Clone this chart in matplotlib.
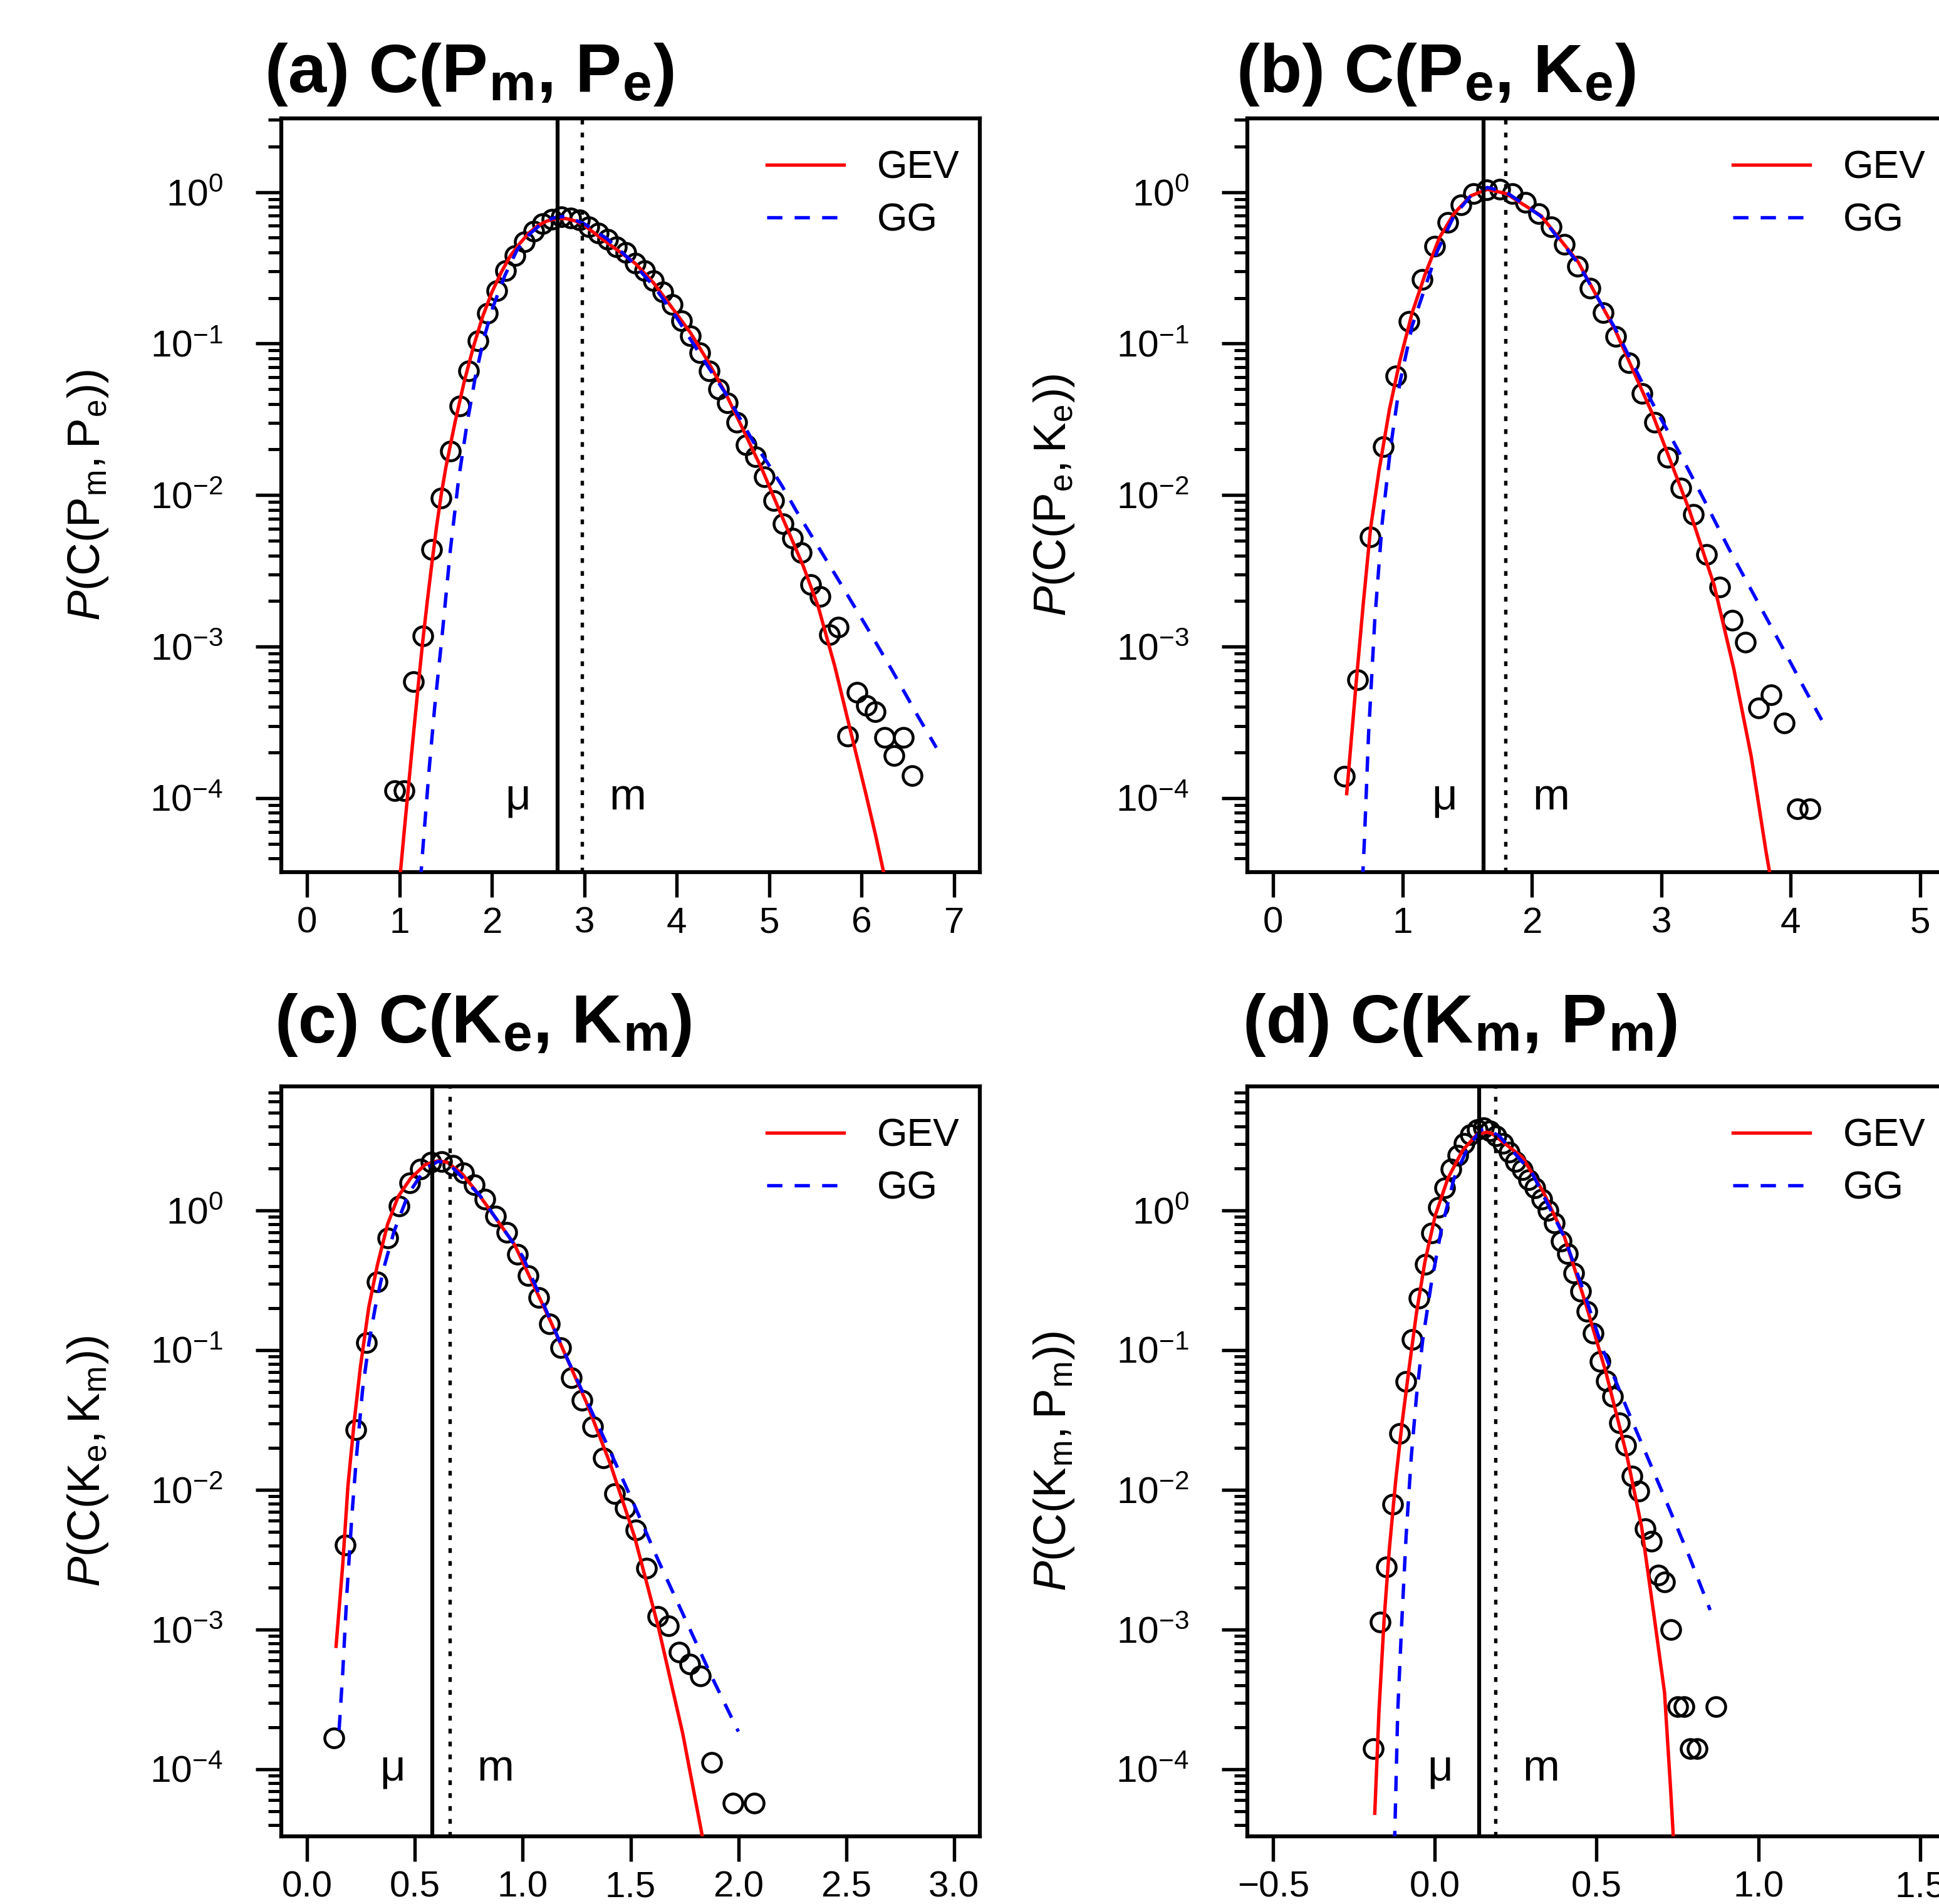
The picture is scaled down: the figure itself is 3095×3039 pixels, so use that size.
import numpy as np
import matplotlib
matplotlib.use("Agg")
import matplotlib.pyplot as plt
from matplotlib.ticker import LogLocator, FixedLocator, FuncFormatter, NullFormatter

plt.rcParams.update({
    'font.family': ['Liberation Sans', 'DejaVu Sans'],
    'mathtext.fontset': 'custom',
    'mathtext.rm': 'Liberation Sans',
    'mathtext.it': 'Liberation Sans:italic',
    'mathtext.bf': 'Liberation Sans:bold',
    'mathtext.default': 'regular',
})

# ---------------- data (log10 of probability density) -------------
# Panel (a) C(Pm, Pe)
a_x = [0.95, 1.05, 1.15, 1.25, 1.35, 1.45, 1.55, 1.65, 1.75, 1.85, 1.95, 2.05, 2.15, 2.25,
       2.35, 2.45, 2.55, 2.65, 2.75, 2.85, 2.95, 3.05, 3.15, 3.25, 3.35, 3.45, 3.55, 3.65,
       3.75, 3.85, 3.95, 4.05, 4.15, 4.25, 4.35, 4.45, 4.55, 4.65, 4.75, 4.85, 4.95, 5.05,
       5.15, 5.25, 5.35, 5.45, 5.55, 5.65, 5.75, 5.85, 5.95, 6.05, 6.15, 6.25, 6.35, 6.45, 6.55]
a_logp = [-3.95, -3.95, -3.23, -2.93, -2.36, -2.02, -1.71, -1.41, -1.18, -0.98, -0.80, -0.65,
          -0.52, -0.42, -0.33, -0.26, -0.21, -0.18, -0.165, -0.17, -0.185, -0.23, -0.27, -0.31,
          -0.36, -0.40, -0.47, -0.52, -0.585, -0.66, -0.74, -0.85, -0.95, -1.06, -1.18, -1.30,
          -1.39, -1.52, -1.67, -1.745, -1.88, -2.035, -2.19, -2.285, -2.38, -2.59, -2.67, -2.92,
          -2.87, -3.59, -3.30, -3.39, -3.43, -3.60, -3.72, -3.60, -3.85]
a_gev_x = [1.00, 1.05, 1.10, 1.15, 1.20, 1.25, 1.30, 1.35, 1.40, 1.45, 1.50, 1.55, 1.60, 1.70,
           1.80, 1.90, 2.00, 2.10, 2.20, 2.30, 2.40, 2.50, 2.60, 2.70, 2.80, 2.90, 3.00, 3.16,
           3.35, 3.55, 3.75, 3.94, 4.15, 4.33, 4.53, 4.72, 4.93, 5.11, 5.37, 5.53, 5.71, 5.89,
           6.05, 6.15, 6.25]
a_gev_logp = [-4.55, -4.22, -3.90, -3.58, -3.27, -2.97, -2.70, -2.45, -2.21, -2.00, -1.82,
              -1.67, -1.52, -1.25, -1.02, -0.82, -0.66, -0.53, -0.42, -0.34, -0.27, -0.22,
              -0.19, -0.175, -0.175, -0.19, -0.22, -0.295, -0.38, -0.47, -0.60, -0.756, -0.93,
              -1.11, -1.33, -1.57, -1.84, -2.10, -2.47, -2.734, -3.129, -3.58, -3.98, -4.24, -4.52]
a_gg_x = [1.225, 1.26, 1.32, 1.38, 1.46, 1.55, 1.64, 1.73, 1.82, 1.91, 2.01, 2.14, 2.27, 2.41,
          2.57, 2.70, 2.80, 3.00, 3.25, 3.50, 3.75, 4.00, 4.23, 4.54, 4.83, 4.98, 5.14, 5.29,
          5.45, 5.74, 6.05, 6.33, 6.62, 6.81]
a_gg_logp = [-4.55, -4.27, -3.81, -3.40, -2.93, -2.36, -1.89, -1.53, -1.22, -0.97, -0.76,
             -0.55, -0.384, -0.275, -0.192, -0.165, -0.16, -0.21, -0.31, -0.45, -0.62, -0.83,
             -1.05, -1.34, -1.65, -1.785, -1.94, -2.10, -2.26, -2.55, -2.865, -3.156, -3.47, -3.667]
a_mu, a_m = 2.707, 2.975

# Panel (b) C(Pe, Ke)
b_x = [0.55, 0.65, 0.75, 0.85, 0.95, 1.05, 1.15, 1.25, 1.35, 1.45, 1.55, 1.65, 1.75, 1.85,
       1.95, 2.05, 2.15, 2.25, 2.35, 2.45, 2.55, 2.65, 2.75, 2.85, 2.95, 3.05, 3.15, 3.25,
       3.35, 3.45, 3.55, 3.65, 3.75, 3.85, 3.95, 4.05, 4.15]
b_logp = [-3.855, -3.217, -2.274, -1.679, -1.215, -0.852, -0.577, -0.359, -0.199, -0.083,
          -0.010, 0.015, 0.019, -0.010, -0.068, -0.141, -0.229, -0.344, -0.490, -0.635, -0.794,
          -0.954, -1.128, -1.331, -1.519, -1.752, -1.955, -2.129, -2.390, -2.607, -2.825,
          -2.970, -3.405, -3.318, -3.506, -4.072, -4.072]
b_gev_x = [0.568, 0.64, 0.697, 0.753, 0.818, 0.899, 0.979, 1.075, 1.172, 1.285, 1.398, 1.527,
           1.655, 1.80, 2.07, 2.357, 2.643, 2.93, 3.217, 3.408, 3.56, 3.695, 3.81, 3.86]
b_gev_logp = [-3.97, -3.25, -2.709, -2.216, -1.838, -1.432, -1.113, -0.794, -0.548, -0.301,
              -0.141, -0.025, 0.018, -0.01, -0.156, -0.461, -0.91, -1.461, -2.10, -2.593,
              -3.144, -3.724, -4.355, -4.60]
b_gg_x = [0.69, 0.705, 0.737, 0.785, 0.842, 0.906, 0.979, 1.075, 1.172, 1.269, 1.398, 1.527,
          1.655, 1.80, 2.07, 2.357, 2.643, 2.93, 3.14, 3.33, 3.52, 3.72, 3.914, 4.115, 4.24]
b_gg_logp = [-4.55, -4.275, -3.578, -2.825, -2.186, -1.693, -1.258, -0.881, -0.635, -0.388,
             -0.156, -0.025, 0.03, 0.0, -0.16, -0.47, -0.90, -1.39, -1.72, -2.03, -2.35,
             -2.665, -2.97, -3.29, -3.484]
b_mu, b_m = 1.626, 1.793

# Panel (c) C(Ke, Km)
c_x = [0.125, 0.175, 0.225, 0.275, 0.325, 0.375, 0.425, 0.475, 0.525, 0.575, 0.625, 0.675,
       0.725, 0.775, 0.825, 0.875, 0.925, 0.975, 1.025, 1.075, 1.125, 1.175, 1.225, 1.275,
       1.325, 1.375, 1.425, 1.475, 1.525, 1.575, 1.625, 1.675, 1.725, 1.775, 1.825, 1.875,
       1.975, 2.075]
c_logp = [-3.777, -2.396, -1.569, -0.948, -0.510, -0.198, 0.033, 0.197, 0.296, 0.345, 0.350,
          0.322, 0.270, 0.184, 0.081, -0.039, -0.159, -0.313, -0.468, -0.622, -0.811, -0.982,
          -1.199, -1.360, -1.548, -1.771, -2.029, -2.132, -2.286, -2.561, -2.904, -2.972,
          -3.161, -3.247, -3.333, -3.950, -4.242, -4.242]
c_gev_x = [0.134, 0.165, 0.189, 0.218, 0.247, 0.286, 0.325, 0.373, 0.422, 0.48, 0.548, 0.606,
           0.65, 0.72, 0.795, 0.962, 1.129, 1.296, 1.408, 1.519, 1.63, 1.742, 1.831, 1.85]
c_gev_logp = [-3.12, -2.534, -1.974, -1.514, -1.119, -0.69, -0.395, -0.099, 0.099, 0.23, 0.329,
              0.355, 0.345, 0.26, 0.117, -0.245, -0.794, -1.377, -1.823, -2.338, -2.99, -3.744,
              -4.465, -4.60]
c_gg_x = [0.148, 0.165, 0.184, 0.208, 0.228, 0.257, 0.286, 0.315, 0.354, 0.403, 0.47, 0.548,
          0.606, 0.65, 0.80, 1.0, 1.2, 1.419, 1.519, 1.63, 1.742, 1.875, 2.0]
c_gg_logp = [-3.72, -3.307, -2.748, -2.172, -1.776, -1.283, -0.954, -0.70, -0.42, -0.15, 0.12,
             0.30, 0.35, 0.345, 0.11, -0.33, -1.04, -1.771, -2.115, -2.51, -2.886, -3.333, -3.73]
c_mu, c_m = 0.579, 0.661

# Panel (d) C(Km, Pm)
d_x = [-0.19, -0.17, -0.15, -0.13, -0.11, -0.09, -0.07, -0.05, -0.03, -0.01, 0.01, 0.03, 0.05,
       0.07, 0.09, 0.11, 0.13, 0.15, 0.17, 0.19, 0.21, 0.23, 0.25, 0.27, 0.29, 0.31, 0.33,
       0.35, 0.37, 0.39, 0.41, 0.43, 0.45, 0.47, 0.49, 0.51, 0.53, 0.55, 0.57, 0.59, 0.61,
       0.63, 0.65, 0.67, 0.69, 0.71, 0.73, 0.75, 0.77, 0.79, 0.81, 0.87]
d_logp = [-3.851, -2.948, -2.551, -2.103, -1.595, -1.224, -0.925, -0.627, -0.385, -0.162,
          0.023, 0.163, 0.295, 0.395, 0.478, 0.544, 0.58, 0.59, 0.57, 0.535, 0.48, 0.415, 0.35,
          0.29, 0.22, 0.16, 0.08, 0.00, -0.09, -0.22, -0.31, -0.45, -0.58, -0.72, -0.88,
          -1.08, -1.22, -1.33, -1.52, -1.68, -1.90, -2.01, -2.28, -2.37, -2.61, -2.66, -3.00,
          -3.55, -3.55, -3.85, -3.85, -3.55]
d_gev_x = [-0.186, -0.173, -0.157, -0.141, -0.121, -0.102, -0.080, -0.057, -0.031, 0.001,
           0.04, 0.085, 0.13, 0.16, 0.175, 0.271, 0.336, 0.40, 0.465, 0.529, 0.594, 0.639,
           0.677, 0.71, 0.729, 0.74]
d_gev_logp = [-4.315, -3.585, -2.922, -2.425, -1.927, -1.529, -1.131, -0.733, -0.368, -0.036,
              0.229, 0.428, 0.544, 0.56, 0.553, 0.38, 0.129, -0.186, -0.658, -1.161, -1.76,
              -2.263, -2.892, -3.45, -4.15, -4.60]
d_gg_x = [-0.125, -0.115, -0.102, -0.089, -0.073, -0.057, -0.038, -0.012, 0.02, 0.059, 0.104,
          0.143, 0.16, 0.20, 0.30, 0.40, 0.46, 0.52, 0.594, 0.658, 0.722, 0.787, 0.851]
d_gg_logp = [-4.55, -3.585, -2.922, -2.325, -1.761, -1.33, -0.932, -0.534, -0.136, 0.229,
             0.461, 0.577, 0.585, 0.53, 0.27, -0.19, -0.58, -1.00, -1.42, -1.77, -2.12, -2.48,
             -2.86]
d_mu, d_m = 0.1375, 0.1865

# title pieces: (text, is_subscript)
titles = [
    [('(a) C(P', False), ('m', True), (', P', False), ('e', True), (')', False)],
    [('(b) C(P', False), ('e', True), (', K', False), ('e', True), (')', False)],
    [('(c) C(K', False), ('e', True), (', K', False), ('m', True), (')', False)],
    [('(d) C(K', False), ('m', True), (', P', False), ('m', True), (')', False)],
]
ylabels = [r'$\mathit{P}(\mathrm{C}(\mathrm{P}_{\mathrm{m}},\mathrm{P}_{\mathrm{e}}))$',
           r'$\mathit{P}(\mathrm{C}(\mathrm{P}_{\mathrm{e}},\mathrm{K}_{\mathrm{e}}))$',
           r'$\mathit{P}(\mathrm{C}(\mathrm{K}_{\mathrm{e}},\mathrm{K}_{\mathrm{m}}))$',
           r'$\mathit{P}(\mathrm{C}(\mathrm{K}_{\mathrm{m}},\mathrm{P}_{\mathrm{m}}))$']
xticks = [[0, 1, 2, 3, 4, 5, 6, 7], [0, 1, 2, 3, 4, 5],
          [0.0, 0.5, 1.0, 1.5, 2.0, 2.5, 3.0], [-0.5, 0.0, 0.5, 1.0, 1.5]]
xticklabels = [['0', '1', '2', '3', '4', '5', '6', '7'], ['0', '1', '2', '3', '4', '5'],
               ['0.0', '0.5', '1.0', '1.5', '2.0', '2.5', '3.0'],
               ['\u22120.5', '0.0', '0.5', '1.0', '1.5']]

# ---------------- layout ----------------
W, H = 3095, 3039
fig = plt.figure(figsize=(W / 300, H / 300), dpi=300)
renderer = fig.canvas.get_renderer()

def rect(left, top, right, bottom):
    return [left / W, 1 - bottom / H, (right - left) / W, (bottom - top) / H]

boxes = [rect(449, 189, 1564, 1392), rect(1991, 189, 3106, 1392),
         rect(449, 1734, 1564, 2931), rect(1991, 1734, 3106, 2931)]
xlims = [(-0.28, 7.28), (-0.2, 5.2), (-0.12, 3.12), (-0.58, 1.58)]
ylims = [(10 ** -4.488, 10 ** 0.486), (10 ** -4.488, 10 ** 0.486),
         (10 ** -4.48, 10 ** 0.888), (10 ** -4.48, 10 ** 0.888)]
title_pos = [(423, 147), (1974, 147), (439, 1664), (1984, 1664)]
TITLE_FS = 26.5
SUB_SCALE = 0.76
SUB_DROP = 13  # pixels

panels = [
    (a_x, a_logp, a_gev_x, a_gev_logp, a_gg_x, a_gg_logp, a_mu, a_m),
    (b_x, b_logp, b_gev_x, b_gev_logp, b_gg_x, b_gg_logp, b_mu, b_m),
    (c_x, c_logp, c_gev_x, c_gev_logp, c_gg_x, c_gg_logp, c_mu, c_m),
    (d_x, d_logp, d_gev_x, d_gev_logp, d_gg_x, d_gg_logp, d_mu, d_m),
]

def decade_fmt(v, pos):
    e = int(round(np.log10(v)))
    return r'$10^{%d}$' % e

def draw_title(x_px, y_px, pieces):
    x = x_px
    for s, sub in pieces:
        fs = TITLE_FS * (SUB_SCALE if sub else 1.0)
        yy = y_px + (SUB_DROP if sub else 0)
        t = fig.text(x / W, 1 - yy / H, s, fontsize=fs, fontweight='bold',
                     ha='left', va='baseline')
        bb = t.get_window_extent(renderer)
        x = bb.x1 + 2

for i, (px, plog, gx, glog, ggx, gglog, mu, mm) in enumerate(panels):
    ax = fig.add_axes(boxes[i])
    ax.set_yscale('log')
    ax.plot(px, np.power(10.0, plog), linestyle='none', marker='o', ms=7.2, mfc='none',
            mec='black', mew=1.1, zorder=2)
    ax.plot(gx, np.power(10.0, glog), color='red', lw=1.3, label='GEV', zorder=3)
    ax.plot(ggx, np.power(10.0, gglog), color='blue', lw=1.3, linestyle=(0, (4.5, 3.6)),
            label='GG', zorder=3)
    ax.axvline(mu, color='black', lw=1.5, zorder=4)
    ax.axvline(mm, color='black', lw=1.3, linestyle=(0, (1.4, 2.4)), zorder=4)
    ax.annotate('\u03bc', xy=(mu, 1e-4), xytext=(-15, 0), textcoords='offset points',
                ha='center', va='center', fontsize=17)
    ax.annotate('m', xy=(mm, 1e-4), xytext=(17.5, 0), textcoords='offset points',
                ha='center', va='center', fontsize=17)
    ax.set_xlim(*xlims[i])
    ax.set_ylim(*ylims[i])
    ax.xaxis.set_major_locator(FixedLocator(xticks[i]))
    ax.set_xticklabels(xticklabels[i])
    ax.yaxis.set_major_locator(LogLocator(base=10, numticks=20))
    ax.yaxis.set_minor_locator(LogLocator(base=10, subs=np.arange(2, 10), numticks=50))
    ax.yaxis.set_major_formatter(FuncFormatter(decade_fmt))
    ax.yaxis.set_minor_formatter(NullFormatter())
    ax.tick_params(axis='x', which='major', direction='out', length=9.6, width=1.3,
                   labelsize=14, pad=3.5)
    ax.tick_params(axis='y', which='major', direction='out', length=9.8, width=1.3,
                   labelsize=14.5, pad=12.5)
    ax.tick_params(axis='y', which='minor', direction='out', length=5.0, width=1.2)
    for sp in ax.spines.values():
        sp.set_linewidth(1.5)
    ax.text(-0.277, 0.5, ylabels[i], transform=ax.transAxes, rotation=90, ha='center',
            va='center', fontsize=17.5)
    ax.legend(loc='upper left', bbox_to_anchor=(0.695, 0.9585), frameon=False, fontsize=15,
              handlelength=1.97, handletextpad=0.85, labelspacing=0.40, borderpad=0,
              borderaxespad=0)
    tx, ty = title_pos[i]
    draw_title(tx, ty, titles[i])

fig.savefig('out.png', dpi=300)
